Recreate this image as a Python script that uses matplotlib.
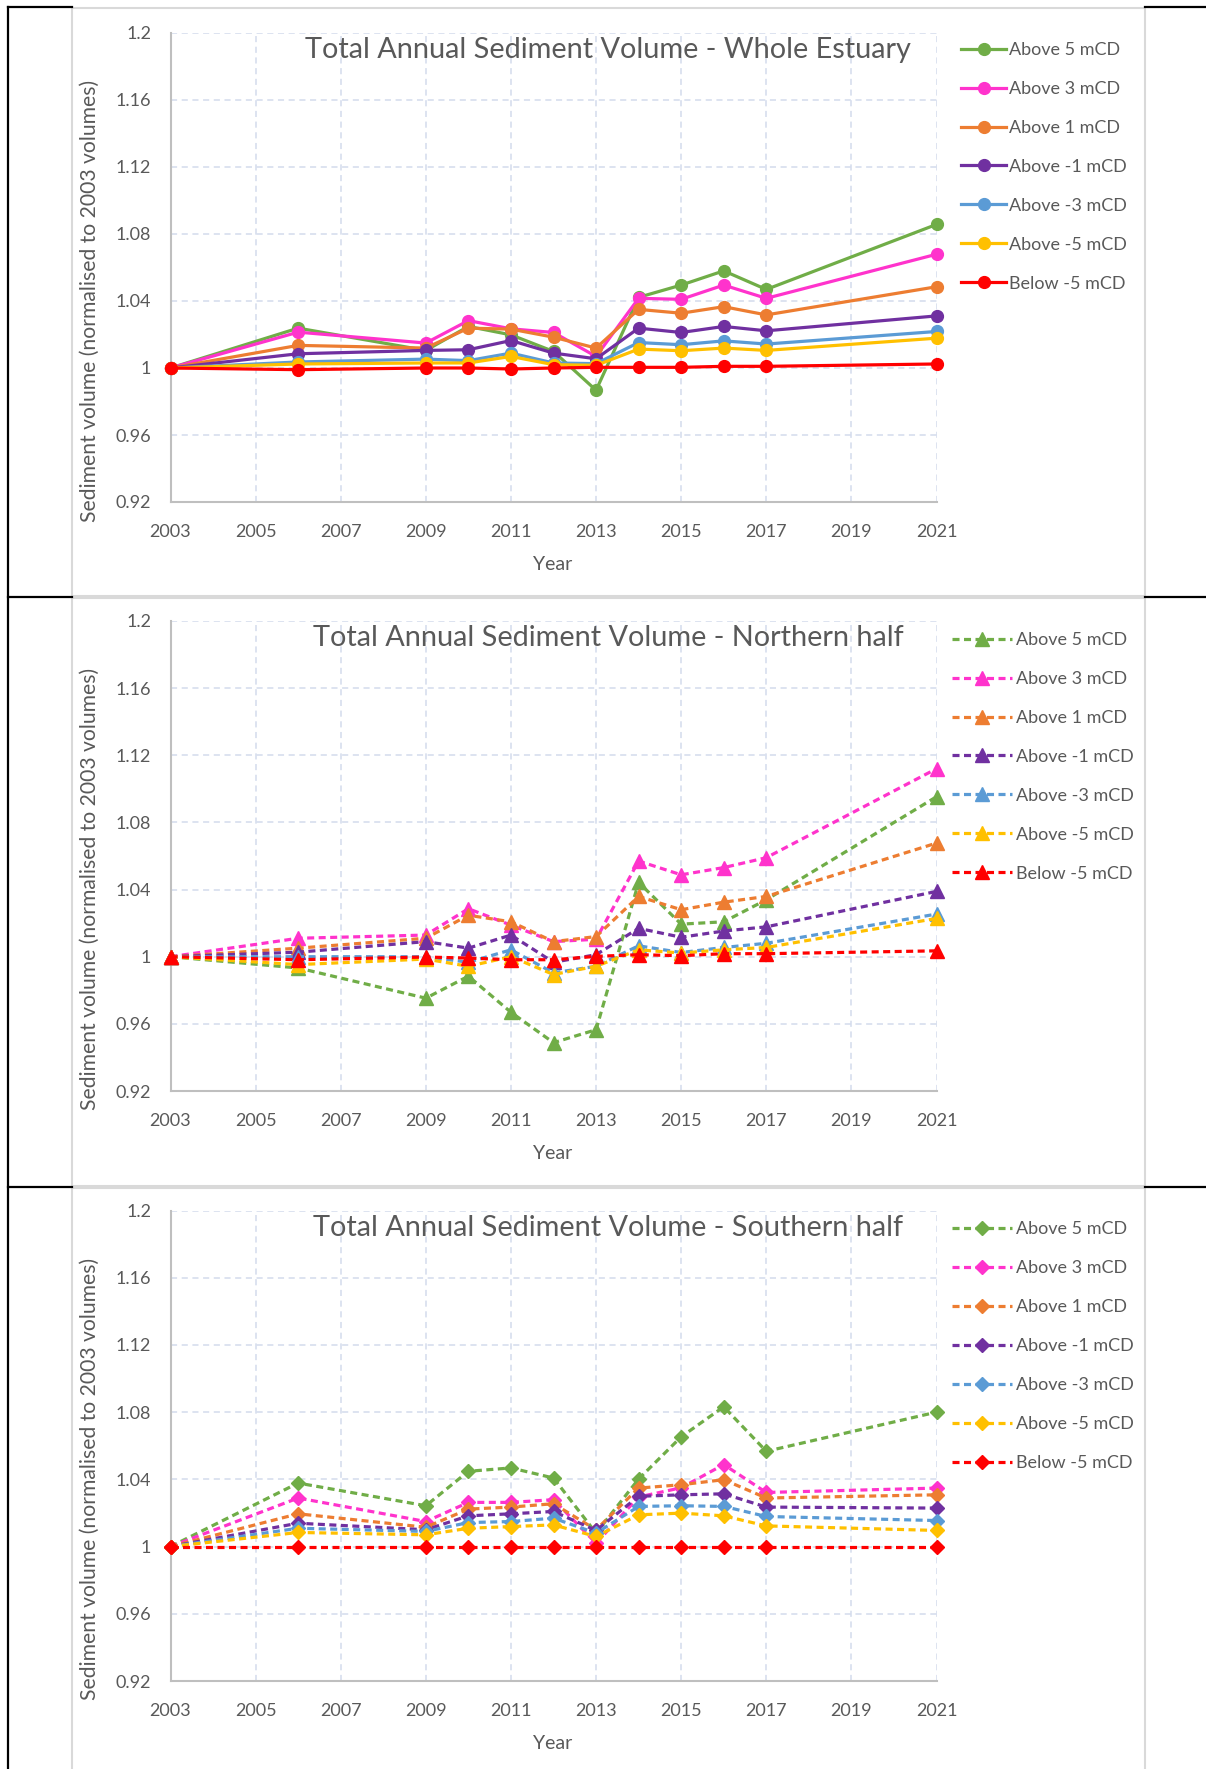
import matplotlib
matplotlib.use('Agg')
import matplotlib.pyplot as plt
from matplotlib.lines import Line2D
from matplotlib.patches import Rectangle

plt.rcParams['font.family'] = ['Lato', 'DejaVu Sans']

# ---------------- data ----------------
years = [2003, 2006, 2009, 2010, 2011, 2012, 2013, 2014, 2015, 2016, 2017, 2021]
series_labels = ['Above 5 mCD', 'Above 3 mCD', 'Above 1 mCD', 'Above -1 mCD',
                 'Above -3 mCD', 'Above -5 mCD', 'Below -5 mCD']
xtick_years = [2003, 2005, 2007, 2009, 2011, 2013, 2015, 2017, 2019, 2021]
ytick_values = [0.92, 0.96, 1.00, 1.04, 1.08, 1.12, 1.16, 1.20]
ytick_labels = ['0.92', '0.96', '1', '1.04', '1.08', '1.12', '1.16', '1.2']

whole_above5 = [1.000, 1.0238, 1.0105, 1.0248, 1.0198, 1.0099, 0.9867, 1.0422, 1.0495, 1.0580, 1.0469, 1.0857]
whole_above3 = [1.000, 1.0214, 1.0149, 1.0283, 1.0234, 1.0212, 1.0069, 1.0416, 1.0410, 1.0495, 1.0416, 1.0679]
whole_above1 = [1.000, 1.0135, 1.0119, 1.0238, 1.0232, 1.0184, 1.0119, 1.0350, 1.0327, 1.0366, 1.0317, 1.0485]
whole_abovem1 = [1.000, 1.0085, 1.0105, 1.0109, 1.0164, 1.0089, 1.0055, 1.0238, 1.0212, 1.0248, 1.0222, 1.0311]
whole_abovem3 = [1.000, 1.0036, 1.0053, 1.0044, 1.0089, 1.0030, 1.0026, 1.0152, 1.0139, 1.0162, 1.0143, 1.0218]
whole_abovem5 = [1.000, 1.0024, 1.0030, 1.0030, 1.0069, 1.0020, 1.0016, 1.0113, 1.0103, 1.0119, 1.0105, 1.0178]
whole_belowm5 = [1.000, 0.9990, 1.0000, 1.0000, 0.9994, 1.0000, 1.0004, 1.0004, 1.0004, 1.0010, 1.0010, 1.0024]

north_above5 = [1.000, 0.9933, 0.9753, 0.9884, 0.9669, 0.9488, 0.9565, 1.0443, 1.0194, 1.0208, 1.0339, 1.0953]
north_above3 = [1.000, 1.0110, 1.0129, 1.0286, 1.0188, 1.0090, 1.0104, 1.0570, 1.0488, 1.0531, 1.0590, 1.1120]
north_above1 = [1.000, 1.0051, 1.0110, 1.0247, 1.0208, 1.0090, 1.0120, 1.0359, 1.0280, 1.0325, 1.0359, 1.0677]
north_abovem1 = [1.000, 1.0027, 1.0090, 1.0051, 1.0129, 0.9967, 1.0012, 1.0169, 1.0116, 1.0153, 1.0178, 1.0389]
north_abovem3 = [1.000, 1.0000, 1.0000, 0.9967, 1.0041, 0.9904, 0.9943, 1.0065, 1.0025, 1.0055, 1.0080, 1.0254]
north_abovem5 = [1.000, 0.9953, 0.9986, 0.9943, 1.0000, 0.9894, 0.9943, 1.0041, 1.0022, 1.0041, 1.0055, 1.0228]
north_belowm5 = [1.000, 0.9982, 0.9998, 0.9992, 0.9982, 0.9982, 1.0002, 1.0012, 1.0006, 1.0018, 1.0018, 1.0035]

south_above5 = [1.000, 1.0378, 1.0243, 1.0448, 1.0468, 1.0408, 1.0080, 1.0402, 1.0653, 1.0832, 1.0567, 1.0800]
south_above3 = [1.000, 1.0289, 1.0149, 1.0263, 1.0263, 1.0279, 1.0020, 1.0295, 1.0350, 1.0488, 1.0322, 1.0348]
south_above1 = [1.000, 1.0195, 1.0115, 1.0223, 1.0235, 1.0255, 1.0100, 1.0348, 1.0368, 1.0398, 1.0289, 1.0308]
south_abovem1 = [1.000, 1.0139, 1.0100, 1.0183, 1.0195, 1.0209, 1.0096, 1.0299, 1.0308, 1.0314, 1.0235, 1.0229]
south_abovem3 = [1.000, 1.0109, 1.0090, 1.0143, 1.0149, 1.0169, 1.0080, 1.0239, 1.0243, 1.0239, 1.0179, 1.0155]
south_abovem5 = [1.000, 1.0084, 1.0070, 1.0109, 1.0119, 1.0129, 1.0060, 1.0189, 1.0199, 1.0183, 1.0123, 1.0096]
south_belowm5 = [1.000, 1.000, 1.000, 1.000, 1.000, 1.000, 1.000, 1.000, 1.000, 1.000, 1.000, 1.000]

titles = ['Total Annual Sediment Volume - Whole Estuary',
          'Total Annual Sediment Volume - Northern half',
          'Total Annual Sediment Volume - Southern half']

# ---------------- style ----------------
colors = ['#70AD47', '#FF33CC', '#ED7D31', '#7030A0', '#5B9BD5', '#FFC000', '#FF0000']
TXT = '#595959'
GRID = '#D3DBEC'

W, H = 1206, 1769
fig = plt.figure(figsize=(W / 100, H / 100), dpi=100)


def fx(x):
    return x / W


def fy(y):
    return 1 - y / H


# table lines & frames
BLK = dict(color='black', lw=1.6, transform=fig.transFigure)
fig.add_artist(Line2D([fx(8), fx(8)], [fy(7), fy(H + 5)], **BLK))
for yy in [7, 597, 1187]:
    fig.add_artist(Line2D([fx(8), fx(72)], [fy(yy), fy(yy)], **BLK))
    fig.add_artist(Line2D([fx(1145), fx(W)], [fy(yy), fy(yy)], **BLK))
for (t, b) in [(8, 596), (598, 1186), (1188, H + 10)]:
    fig.add_artist(Rectangle((fx(72), fy(b)), fx(1145) - fx(72), fy(t) - fy(b),
                             transform=fig.transFigure, fill=False,
                             ec='#D9D9D9', lw=1.5, zorder=-1))

panels = [
    dict(data=[whole_above5, whole_above3, whole_above1, whole_abovem1,
               whole_abovem3, whole_abovem5, whole_belowm5],
         top=33, bottom=502, marker='o', ms=8.5, ls='-',
         leg_x=961, leg_dy=9, hl=2.5, htp=0.16),
    dict(data=[north_above5, north_above3, north_above1, north_abovem1,
               north_abovem3, north_abovem5, north_belowm5],
         top=621, bottom=1091, marker='^', ms=9.5, ls='--',
         leg_x=952, leg_dy=11, hl=3.35, htp=0.2),
    dict(data=[south_above5, south_above3, south_above1, south_abovem1,
               south_abovem3, south_abovem5, south_belowm5],
         top=1210.5, bottom=1681, marker='D', ms=7.5, ls='--',
         leg_x=952, leg_dy=11, hl=3.35, htp=0.2),
]

L, R = 170.5, 936.5
for i, p in enumerate(panels):
    ax = fig.add_axes([fx(L), fy(p['bottom']), (R - L) / W, (p['bottom'] - p['top']) / H])
    handles = []
    for vals, c, lab in zip(p['data'], colors, series_labels):
        kw = dict(color=c, lw=2.3, marker=p['marker'], ms=p['ms'],
                  mfc=c, mec=c, clip_on=False, label=lab, zorder=3)
        if p['ls'] == '--':
            line, = ax.plot(years, vals, linestyle='--', dashes=(2.2, 1.4), **kw)
        else:
            line, = ax.plot(years, vals, linestyle='-', **kw)
        handles.append(line)
    ax.set_xlim(2003, 2021)
    ax.set_ylim(0.92, 1.2)
    ax.set_xticks(xtick_years)
    ax.set_xticklabels([str(y) for y in xtick_years])
    ax.set_yticks(ytick_values)
    ax.set_yticklabels(ytick_labels)
    ax.tick_params(axis='both', length=0, labelsize=13, labelcolor=TXT)
    ax.tick_params(axis='x', pad=15.5)
    ax.tick_params(axis='y', pad=14)
    ax.grid(True, color=GRID, linestyle=(0, (4, 3)), linewidth=1.1)
    ax.set_axisbelow(True)
    for s in ['top', 'right']:
        ax.spines[s].set_visible(False)
    for s in ['left', 'bottom']:
        ax.spines[s].set_color('#BFBFBF')
        ax.spines[s].set_linewidth(1.5)
    # title inside plot
    fig.text(fx(608), fy(p['top'] + 17), titles[i], ha='center', va='center',
             fontsize=20.8, color=TXT)
    # axis labels
    fig.text(fx(90), fy((p['top'] + p['bottom']) / 2 + 33),
             'Sediment volume (normalised to 2003 volumes)', rotation=90,
             ha='center', va='center', fontsize=15.2, color=TXT)
    fig.text(fx(553), fy(p['bottom'] + 62), 'Year', ha='center', va='center',
             fontsize=14, color=TXT)
    ax.legend(handles=handles, loc='upper left',
              bbox_to_anchor=(fx(p['leg_x']), fy(p['top'] + p['leg_dy'])),
              bbox_transform=fig.transFigure, frameon=False, fontsize=13,
              handlelength=p['hl'], handletextpad=p['htp'], labelspacing=1.27,
              borderpad=0, borderaxespad=0, labelcolor=TXT, numpoints=1)

fig.savefig('out.png', dpi=100, facecolor='white')
